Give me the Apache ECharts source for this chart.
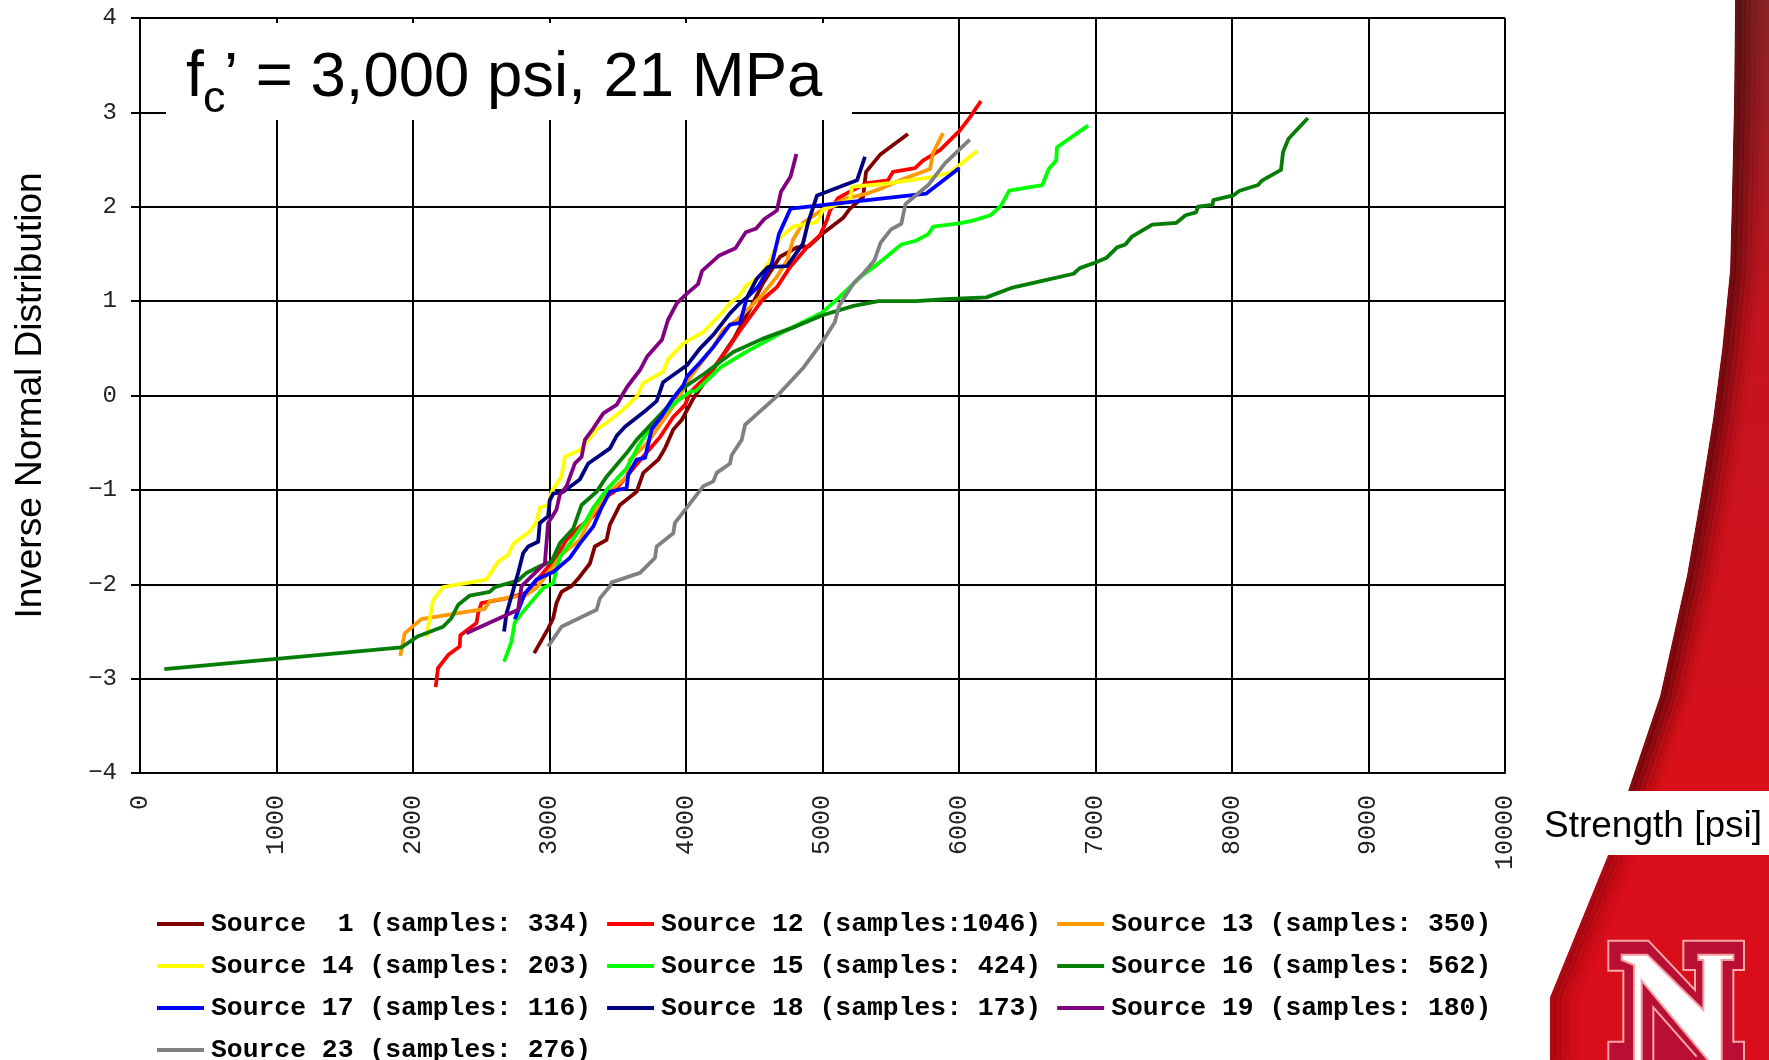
<!DOCTYPE html>
<html><head><meta charset="utf-8">
<style>html,body{margin:0;padding:0;background:#fff}#c{width:1769px;height:1060px}</style>
<script src="https://cdn.jsdelivr.net/npm/echarts@6/dist/echarts.min.js"></script>
</head><body><div id="c"></div>
<script>
const names = ['Source  1 (samples: 334)','Source 12 (samples:1046)','Source 13 (samples: 350)','Source 14 (samples: 203)','Source 15 (samples: 424)','Source 16 (samples: 562)','Source 17 (samples: 116)','Source 18 (samples: 173)','Source 19 (samples: 180)','Source 23 (samples: 276)'];
const colors = ['#800000','#ff0000','#ff9900','#ffff00','#00ff00','#067d06','#0000ff','#000080','#800080','#808080'];
const s1 = [[2888,-2.73],[2990,-2.47],[3027,-2.36],[3051,-2.2],[3088,-2.08],[3161,-2.02],[3222,-1.92],[3296,-1.78],[3332,-1.6],[3418,-1.53],[3442,-1.37],[3516,-1.16],[3638,-1.02],[3687,-.82],[3797,-.68],[3846,-.56],[3907,-.36],[3968,-.26],[4054,-.03],[4200,.28],[4350,.6],[4480,.95],[4564,1.19],[4689,1.47],[4813,1.57],[4900,1.58],[5004,1.72],[5150,1.88],[5201,1.98],[5297,2.1],[5319,2.37],[5421,2.55],[5626,2.77]];
const s12 = [[2166,-3.09],[2183,-2.89],[2257,-2.75],[2342,-2.66],[2347,-2.54],[2465,-2.41],[2477,-2.31],[2501,-2.2],[2685,-2.15],[2831,-2.09],[2929,-1.92],[3051,-1.71],[3125,-1.53],[3222,-1.39],[3320,-1.28],[3418,-1.07],[3465,-1.03],[3685,-.65],[3810,-.44],[3905,-.23],[3993,-.1],[4029,.03],[4176,.24],[4300,.48],[4396,.69],[4564,1.02],[4667,1.15],[4762,1.36],[4886,1.57],[4982,1.7],[5033,1.86],[5055,1.96],[5113,2.09],[5201,2.16],[5326,2.25],[5480,2.28],[5516,2.37],[5678,2.41],[5736,2.49],[5861,2.6],[6007,2.81],[6081,2.95],[6161,3.12]];
const s13 = [[1907,-2.76],[1939,-2.52],[2061,-2.37],[2526,-2.26],[2562,-2.18],[2831,-2.11],[2905,-2.04],[2978,-1.9],[3100,-1.67],[3222,-1.53],[3320,-1.25],[3418,-1.05],[3565,-.86],[3590,-.68],[3712,-.51],[3834,-.26],[3932,-.06],[4029,.19],[4198,.51],[4271,.69],[4374,.8],[4542,1.04],[4667,1.26],[4740,1.43],[4784,1.65],[4857,1.83],[4960,1.93],[5033,2.0],[5179,2.09],[5326,2.14],[5443,2.2],[5568,2.28],[5788,2.4],[5810,2.57],[5883,2.78]];
const s14 = [[2098,-2.56],[2147,-2.17],[2220,-2.03],[2538,-1.95],[2624,-1.76],[2697,-1.69],[2734,-1.57],[2856,-1.44],[2905,-1.34],[2929,-1.19],[2990,-1.16],[3015,-1.02],[3088,-.86],[3113,-.65],[3222,-.58],[3345,-.36],[3418,-.29],[3540,-.15],[3641,-.01],[3685,.13],[3832,.25],[3868,.38],[3978,.55],[4125,.67],[4286,.91],[4322,.98],[4396,1.06],[4438,1.16],[4542,1.26],[4615,1.43],[4689,1.67],[4784,1.79],[4960,1.84],[5004,1.97],[5201,2.07],[5216,2.21],[5495,2.25],[5788,2.31],[5934,2.36],[6132,2.59]];
const s15 = [[2667,-2.82],[2721,-2.61],[2746,-2.4],[2807,-2.29],[2954,-2.04],[3027,-1.99],[3076,-1.71],[3174,-1.52],[3271,-1.32],[3320,-1.19],[3418,-1.0],[3565,-.77],[3650,-.54],[3712,-.4],[3834,-.19],[3919,-.08],[4030,.04],[4073,.05],[4255,.3],[4438,.46],[4681,.65],[4833,.76],[5000,.88],[5122,1.04],[5289,1.27],[5410,1.4],[5578,1.6],[5684,1.64],[5775,1.71],[5812,1.79],[5988,1.82],[6095,1.85],[6231,1.91],[6307,2.01],[6368,2.17],[6611,2.23],[6657,2.4],[6712,2.49],[6718,2.63],[6946,2.86]];
const s16 = [[178,-2.9],[1000,-2.79],[1914,-2.67],[2037,-2.55],[2220,-2.45],[2281,-2.36],[2330,-2.22],[2416,-2.12],[2562,-2.08],[2600,-2.03],[2770,-1.96],[2831,-1.88],[2929,-1.81],[3015,-1.76],[3076,-1.565],[3174,-1.41],[3235,-1.16],[3345,-1.02],[3418,-.86],[3565,-.61],[3638,-.47],[3760,-.28],[3858,-.13],[3950,.05],[4134,.23],[4347,.46],[4559,.6],[4802,.73],[5000,.85],[5228,.95],[5410,1.0],[5684,1.0],[5897,1.02],[6201,1.04],[6383,1.14],[6626,1.22],[6839,1.29],[6885,1.35],[7000,1.41],[7082,1.46],[7158,1.57],[7219,1.6],[7264,1.68],[7416,1.81],[7593,1.83],[7660,1.91],[7736,1.94],[7751,2.0],[7857,2.02],[7863,2.07],[8009,2.12],[8055,2.17],[8191,2.23],[8222,2.28],[8359,2.39],[8374,2.58],[8414,2.72],[8556,2.94]];
const s17 = [[2746,-2.37],[2819,-2.1],[2905,-1.95],[3027,-1.87],[3149,-1.72],[3222,-1.57],[3320,-1.39],[3381,-1.19],[3442,-1.02],[3565,-.98],[3577,-.84],[3638,-.68],[3700,-.66],[3748,-.36],[3822,-.22],[3895,-.05],[3981,.11],[4007,.2],[4103,.35],[4198,.51],[4322,.75],[4396,.77],[4447,1.04],[4527,1.15],[4630,1.4],[4681,1.71],[4766,1.98],[5760,2.14],[6003,2.41]];
const s18 = [[2667,-2.5],[2685,-2.31],[2770,-1.88],[2807,-1.67],[2844,-1.6],[2917,-1.55],[2929,-1.35],[2990,-1.28],[3002,-1.11],[3027,-1.04],[3100,-1.02],[3222,-.89],[3284,-.72],[3443,-.56],[3491,-.43],[3553,-.33],[3712,-.15],[3785,-.06],[3832,.14],[4007,.32],[4103,.5],[4198,.64],[4322,.87],[4396,.98],[4447,1.04],[4520,1.24],[4600,1.36],[4740,1.37],[4857,1.61],[4894,1.83],[4960,2.12],[5253,2.28],[5311,2.53]];
const s19 = [[2391,-2.52],[2770,-2.27],[2795,-2.02],[2966,-1.78],[2990,-1.35],[3051,-1.21],[3076,-1.05],[3125,-.96],[3186,-.72],[3235,-.65],[3259,-.47],[3320,-.35],[3394,-.19],[3491,-.1],[3568,.09],[3663,.27],[3714,.41],[3824,.59],[3868,.8],[3934,.98],[4007,1.08],[4088,1.18],[4118,1.32],[4240,1.48],[4362,1.56],[4438,1.73],[4514,1.77],[4574,1.87],[4666,1.96],[4696,2.16],[4766,2.32],[4809,2.56]];
const s23 = [[2990,-2.66],[3088,-2.45],[3345,-2.27],[3369,-2.15],[3443,-2.02],[3455,-1.98],[3663,-1.88],[3773,-1.72],[3785,-1.6],[3907,-1.46],[3919,-1.35],[4005,-1.19],[4127,-.96],[4200,-.91],[4225,-.82],[4323,-.72],[4335,-.63],[4408,-.47],[4433,-.31],[4518,-.2],[4665,-.01],[4696,.04],[4863,.3],[5000,.57],[5091,.78],[5122,.95],[5228,1.19],[5304,1.3],[5380,1.43],[5426,1.62],[5502,1.76],[5578,1.82],[5608,2.03],[5775,2.23],[5897,2.46],[6079,2.71]];
const seriesData = [s1,s12,s13,s14,s15,s16,s17,s18,s19,s23];

const MONO = '"Liberation Mono", monospace', SANS = '"Liberation Sans", Arial, sans-serif';
const edge = [[1735,0],[1734,100],[1732,190],[1730,270],[1722,350],[1713,419],[1700,500],[1687,575],[1660,696],[1628,791]];
const edgeLow = [[1608,855],[1550,997]];
const shift = (pts,d) => pts.map(p => [p[0]+d,p[1]]);
const zp = pts => pts.map(p => [1540+p[0]/3, 850+p[1]/3]);
const nOuter = zp([[205,272],[325,272],[465,420],[465,360],[430,360],[430,272],[612,272],[612,360],[580,360],[580,575],[612,575],[612,640],[205,640],[205,575],[250,575],[250,362],[205,362]]);
const nWhite = zp([[245,314],[322,314],[490,480],[490,330],[475,330],[475,314],[580,314],[580,330],[545,330],[545,640],[512,640],[305,392],[305,640],[282,640],[282,345],[245,330]]);
const nInner = zp([[340,640],[340,472],[470,620]]);

const shade = (pts,rgb,base) => [[3,.5],[8,.38],[13,.27],[18,.17],[23,.1],[28,.05]].map(([d,a]) => (
  {type:'polyline',z:-4,shape:{points:shift(pts,d)},style:{fill:null,stroke:`rgba(${rgb},${a*base})`,lineWidth:6,shadowBlur:7,shadowColor:`rgba(${rgb},${a*base})`}}
));

const graphic = [
  {type:'polygon',z:-5,shape:{points:[...edge,[1769,791],[1769,0]]},style:{fill:new echarts.graphic.LinearGradient(0,0,0,1,[{offset:0,color:'#8a2426'},{offset:.12,color:'#9a1f24'},{offset:.4,color:'#c4141e'},{offset:1,color:'#d8101a'}])}},
  ...shade(edge,'50,5,5',.85),
  {type:'polygon',z:-5,shape:{points:[...edgeLow,[1550,1060],[1769,1060],[1769,855]]},style:{fill:'#d90e1a'}},
  ...shade([[1608,855],[1550,997],[1550,1060]],'70,5,5',.5),
  {type:'polygon',z:-3,shape:{points:[[1600,0],...edge,[1600,791]]},style:{fill:'#fff'}},
  {type:'polygon',z:-3,shape:{points:[[1500,855],...edgeLow,[1500,997]]},style:{fill:'#fff'}},
  {type:'rect',z:-3,shape:{x:1520,y:791,width:249,height:64},style:{fill:'#fff'}},
  {type:'polygon',z:-2,shape:{points:nOuter},style:{fill:'#b90f35',stroke:'#f8a8a8',lineWidth:2}},
  {type:'polygon',z:-2,shape:{points:nWhite},style:{fill:'#fff',stroke:'#f8a0a0',lineWidth:2}},
  {type:'polyline',z:-2,shape:{points:nInner},style:{fill:null,stroke:'#f8a8a8',lineWidth:2}},
  {type:'rect',z:50,shape:{x:166,y:23,width:686,height:97},style:{fill:'#fff'}},
  {type:'text',z:51,x:186,y:78,style:{text:'f',font:'64px '+SANS,fill:'#000',verticalAlign:'middle'}},
  {type:'text',z:51,x:203,y:100,style:{text:'c',font:'45px '+SANS,fill:'#000',verticalAlign:'middle'}},
  {type:'text',z:51,x:224,y:78,style:{text:'\u2019 = 3,000 psi, 21 MPa',font:'63.5px '+SANS,fill:'#000',verticalAlign:'middle'}},
  {type:'text',z:51,x:1544,y:827,style:{text:'Strength [psi]',font:'37px '+SANS,fill:'#000',verticalAlign:'middle'}}
];

const chart = echarts.init(document.getElementById('c'));
chart.setOption({
  animation:false, backgroundColor:'#fff',
  grid:{left:140,right:264,top:18,bottom:287,containLabel:false,outerBoundsMode:'none'},
  graphic:{elements:graphic},
  legend:{left:157,top:911,width:1345,padding:0,icon:'rect',itemWidth:47,itemHeight:4,itemGap:16,selectedMode:false,
    textStyle:{fontFamily:MONO,fontWeight:'bold',fontSize:26.4,color:'#000',padding:[0,4,0,2]},
    data:names},
  xAxis:{type:'value',min:0,max:10000,interval:1000,
    axisLine:{onZero:false,lineStyle:{color:'#000',width:2}},axisTick:{show:false},
    axisLabel:{rotate:90,margin:22,fontFamily:MONO,fontSize:25,color:'#222',hideOverlap:false,showMinLabel:true,showMaxLabel:true,formatter:v=>String(v)},
    splitLine:{show:true,lineStyle:{color:'#000',width:2}}},
  yAxis:{type:'value',min:-4,max:4,interval:1,name:'Inverse Normal Distribution',nameLocation:'middle',nameRotate:90,nameGap:91,
    nameTextStyle:{fontFamily:SANS,fontSize:37,color:'#000'},
    axisLine:{show:true,onZero:false,lineStyle:{color:'#000',width:2}},axisTick:{show:true,length:9,lineStyle:{color:'#000',width:2}},
    axisLabel:{margin:23,fontFamily:MONO,fontSize:24,color:'#222',formatter:v=>String(v).replace('-','\u2212')},
    splitLine:{show:true,lineStyle:{color:'#000',width:2}}},
  series:names.map((n,i)=>({name:n,type:'line',data:seriesData[i],showSymbol:false,symbol:'none',smooth:false,clip:false,
    lineStyle:{color:colors[i],width:3.8,join:'round'},itemStyle:{color:colors[i]}}))
});
</script></body></html>
